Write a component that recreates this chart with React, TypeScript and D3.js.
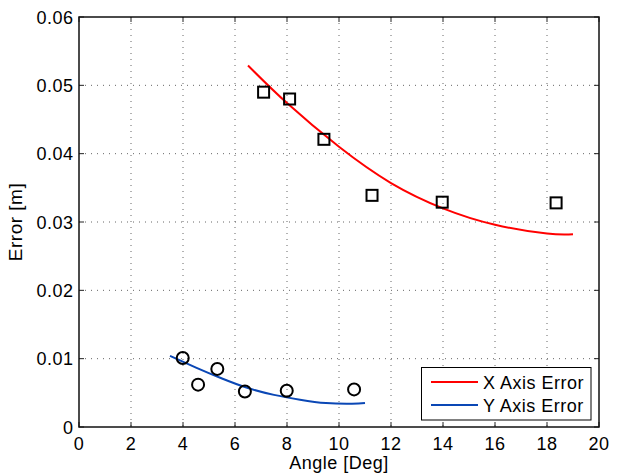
import React from "react";
import * as d3 from "d3";

const xTicks = [0, 2, 4, 6, 8, 10, 12, 14, 16, 18, 20];
const yTicks = [0, 0.01, 0.02, 0.03, 0.04, 0.05, 0.06];
const yTickLabels = ["0", "0.01", "0.02", "0.03", "0.04", "0.05", "0.06"];

const xErrAngles = [7.1, 8.1, 9.42, 11.27, 13.97, 18.35];
const xErrValues = [0.049, 0.048, 0.0421, 0.0339, 0.0329, 0.0328];

const yErrAngles = [3.99, 4.58, 5.32, 6.38, 7.99, 10.58];
const yErrValues = [0.0101, 0.0062, 0.0085, 0.0052, 0.0053, 0.0055];

const xFitAngles = [6.5, 8, 10, 12, 14, 16, 18, 19];
const xFitValues = [0.0529, 0.0474, 0.041, 0.0357, 0.032, 0.0296, 0.0283, 0.0282];

const yFitAngles = [3.5, 4.5, 5.5, 6.5, 7.5, 8.5, 9.5, 10.5, 11];
const yFitValues = [0.0104, 0.0087, 0.0071, 0.0057, 0.0047, 0.004, 0.0035, 0.0034, 0.0035];

const legendLabels = ["X Axis Error", "Y Axis Error"];
const colors = ["#ff0000", "#0a47b5"];

const W = 618, H = 476;
const L = 79, T = 17, R = 599, B = 427;
const FONT = "Liberation Sans, Arial, Helvetica, sans-serif";
const FS = 18;
const LS = 0.5;

export default function App() {
  const x = d3.scaleLinear().domain([0, 20]).range([L, R]);
  const y = d3.scaleLinear().domain([0, 0.06]).range([B, T]);
  const line = d3
    .line<[number, number]>()
    .x((d) => x(d[0]))
    .y((d) => y(d[1]))
    .curve(d3.curveNatural);
  const xFit = xFitAngles.map((a, i) => [a, xFitValues[i]] as [number, number]);
  const yFit = yFitAngles.map((a, i) => [a, yFitValues[i]] as [number, number]);
  const tickLen = 5;
  const gridColor = "#666";

  return (
    <svg
      width={W}
      height={H}
      style={{ position: "absolute", left: 0, top: 0, background: "#fff" }}
      fontFamily={FONT}
    >
      <rect x={0} y={0} width={W} height={H} fill="#fff" />
      {/* grid */}
      {xTicks.slice(1, -1).map((t) => (
        <line key={"gx" + t} x1={x(t)} x2={x(t)} y1={T} y2={B} stroke={gridColor} strokeWidth={1} strokeDasharray="1,5" />
      ))}
      {yTicks.slice(1, -1).map((t) => (
        <line key={"gy" + t} x1={L} x2={R} y1={y(t)} y2={y(t)} stroke={gridColor} strokeWidth={1} strokeDasharray="1,5" />
      ))}
      {/* ticks */}
      {xTicks.map((t) => (
        <g key={"tx" + t}>
          <line x1={x(t)} x2={x(t)} y1={B} y2={B - tickLen} stroke="#222" strokeWidth={1} />
          <line x1={x(t)} x2={x(t)} y1={T} y2={T + tickLen} stroke="#222" strokeWidth={1} />
          <text x={x(t)} y={449.5} textAnchor="middle" fontSize={FS} letterSpacing={LS} fill="#000">
            {t}
          </text>
        </g>
      ))}
      {yTicks.map((t, i) => (
        <g key={"ty" + t}>
          <line x1={L} x2={L + tickLen} y1={y(t)} y2={y(t)} stroke="#222" strokeWidth={1} />
          <line x1={R} x2={R - tickLen} y1={y(t)} y2={y(t)} stroke="#222" strokeWidth={1} />
          <text x={73.5} y={y(t) + 6.5} textAnchor="end" fontSize={FS} letterSpacing={LS} fill="#000">
            {yTickLabels[i]}
          </text>
        </g>
      ))}
      {/* frame */}
      <rect x={L} y={T} width={R - L} height={B - T} fill="none" stroke="#111" strokeWidth={1.5} />
      {/* fits */}
      <path d={line(xFit) || ""} fill="none" stroke={colors[0]} strokeWidth={2} />
      <path d={line(yFit) || ""} fill="none" stroke={colors[1]} strokeWidth={2} />
      {/* markers */}
      {xErrAngles.map((a, i) => (
        <rect key={"sq" + i} x={x(a) - 5.5} y={y(xErrValues[i]) - 5.5} width={11} height={11} fill="none" stroke="#000" strokeWidth={2} />
      ))}
      {yErrAngles.map((a, i) => (
        <circle key={"ci" + i} cx={x(a)} cy={y(yErrValues[i])} r={6} fill="none" stroke="#000" strokeWidth={2} />
      ))}
      {/* legend */}
      <rect x={421.5} y={367.5} width={169.5} height={52.5} fill="#fff" stroke="#000" strokeWidth={1} />
      {legendLabels.map((lab, i) => (
        <g key={lab}>
          <line x1={431} x2={478} y1={382 + i * 23} y2={382 + i * 23} stroke={colors[i]} strokeWidth={2} />
          <text x={483} y={389 + i * 23} fontSize={FS} letterSpacing={LS} fill="#000">
            {lab}
          </text>
        </g>
      ))}
      {/* axis labels */}
      <text x={(L + R) / 2} y={469} textAnchor="middle" fontSize={FS} letterSpacing={LS} fill="#000">
        Angle [Deg]
      </text>
      <text
        transform={`translate(22,${(T + B) / 2}) rotate(-90)`}
        textAnchor="middle"
        fontSize={19}
        letterSpacing={LS}
        fill="#000"
      >
        Error [m]
      </text>
    </svg>
  );
}
